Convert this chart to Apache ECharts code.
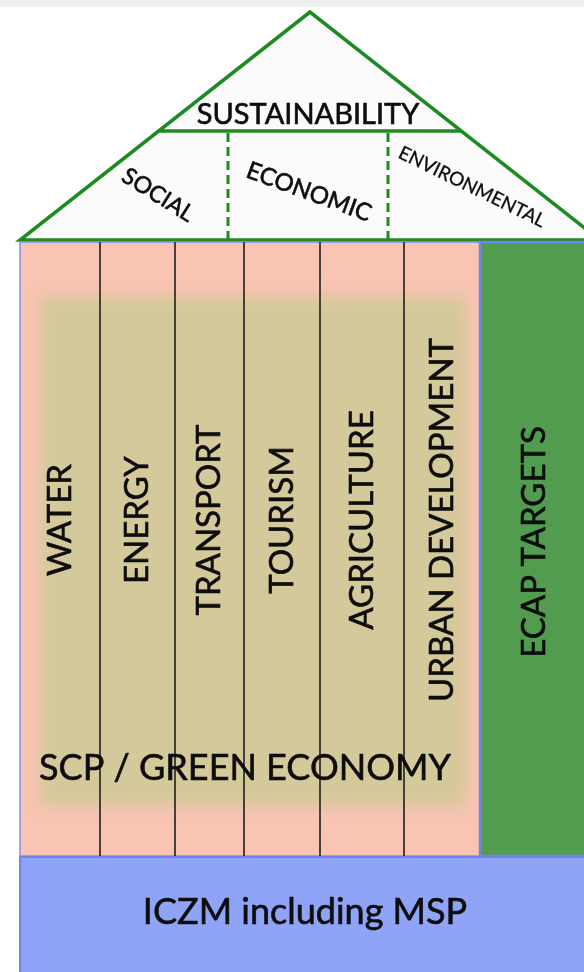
<!DOCTYPE html>
<html>
<head>
<meta charset="utf-8">
<script src="https://cdn.jsdelivr.net/npm/echarts@6/dist/echarts.min.js"></script>
<style>
  html, body { margin: 0; padding: 0; background: #fff; }
  #chart { width: 584px; height: 972px; }
</style>
</head>
<body>
<div id="chart"></div>
<script>
// diagram units: one unit = one pixel of the original picture
const sectors = ['WATER', 'ENERGY', 'TRANSPORT', 'TOURISM', 'AGRICULTURE', 'URBAN DEVELOPMENT']
const sectorEdges = [20, 100, 175, 244, 320, 404, 480]
const pillarSpan = [242, 856]
const coreBox = [40, 296, 466, 806]
const coreLabel = 'SCP / GREEN ECONOMY'
const ecapLabel = 'ECAP TARGETS'
const ecapSpan = [480, 584]
const baseLabel = 'ICZM including MSP'
const baseSpan = [857, 972]
const roofApex = [310, 12]
const roofEaves = [[20, 240], [600, 240]]
const roofBeamY = 131
const roofTitle = 'SUSTAINABILITY'
const dimensions = ['SOCIAL', 'ECONOMIC', 'ENVIRONMENTAL']
const dimensionDividers = [228, 388]

// label placement (layout only)
const sectorLabelY = 520
const coreLabelAt = [245, 768]
const ecapLabelY = 542
const roofTitleAt = [308, 115]
const dimensionAt = [[158, 195], [309, 192], [472, 187]]
const dimensionTilt = [-32, -20, -26]
const dimensionFont = [23, 24, 19]

const FONT = 'Lato, "Open Sans", sans-serif'
const GREEN_LINE = '#1f8a22'

const chart = echarts.init(document.getElementById('chart'))

function rectOf(api, x0, y0, x1, y1) {
  const a = api.coord([x0, y0])
  const b = api.coord([x1, y1])
  return {
    x: Math.min(a[0], b[0]),
    y: Math.min(a[1], b[1]),
    width: Math.abs(b[0] - a[0]),
    height: Math.abs(b[1] - a[1])
  }
}

function label(api, text, x, y, size, rotateDeg) {
  const p = api.coord([x, y])
  return {
    type: 'text',
    x: p[0],
    y: p[1],
    rotation: (rotateDeg || 0) * Math.PI / 180,
    style: {
      text: text,
      fill: '#0d0d0d',
      stroke: '#0d0d0d',
      lineWidth: size > 20 ? 0.6 : 0.3,
      fontSize: size,
      fontFamily: FONT,
      align: 'center',
      verticalAlign: 'middle'
    }
  }
}

const option = {
  animation: false,
  grid: { left: 0, right: 0, top: 0, bottom: 0 },
  xAxis: { type: 'value', min: 0, max: 584, show: false },
  yAxis: { type: 'value', min: 0, max: 972, inverse: true, show: false },
  series: [
    // faint strip at the very top
    {
      type: 'custom',
      data: [[0, 0, 584, 7]],
      renderItem: (params, api) => ({
        type: 'rect',
        shape: rectOf(api, api.value(0), api.value(1), api.value(2), api.value(3)),
        style: { fill: '#edf1ec' }
      })
    },
    // roof
    {
      type: 'custom',
      data: [[roofApex[0], roofApex[1]]],
      renderItem: (params, api) => {
        const apex = api.coord(roofApex)
        const left = api.coord(roofEaves[0])
        const right = api.coord(roofEaves[1])
        // where the beam meets the two slopes
        const t = (roofBeamY - roofApex[1]) / (roofEaves[0][1] - roofApex[1])
        const bl = api.coord([roofApex[0] + (roofEaves[0][0] - roofApex[0]) * t, roofBeamY])
        const br = api.coord([roofApex[0] + (roofEaves[1][0] - roofApex[0]) * t, roofBeamY])
        const children = [
          {
            type: 'polygon',
            shape: { points: [apex, left, right] },
            style: { fill: '#fbfbfb', stroke: GREEN_LINE, lineWidth: 3.5, lineJoin: 'miter' }
          },
          {
            type: 'line',
            shape: { x1: bl[0], y1: bl[1], x2: br[0], y2: br[1] },
            style: { stroke: GREEN_LINE, lineWidth: 3.5 }
          }
        ]
        dimensionDividers.forEach((x) => {
          const a = api.coord([x, roofBeamY + 2])
          const b = api.coord([x, roofEaves[0][1] - 1])
          children.push({
            type: 'line',
            shape: { x1: a[0], y1: a[1], x2: b[0], y2: b[1] },
            style: { stroke: GREEN_LINE, lineWidth: 3, lineDash: [9, 5] }
          })
        })
        children.push(label(api, roofTitle, roofTitleAt[0], roofTitleAt[1], 29, 0))
        dimensions.forEach((d, i) => {
          children.push(label(api, d, dimensionAt[i][0], dimensionAt[i][1], dimensionFont[i], dimensionTilt[i]))
        })
        return { type: 'group', children: children }
      }
    },
    // pink pillar ground
    {
      type: 'custom',
      data: [[sectorEdges[0], pillarSpan[0], sectorEdges[sectorEdges.length - 1], pillarSpan[1]]],
      renderItem: (params, api) => ({
        type: 'rect',
        shape: rectOf(api, api.value(0), api.value(1), api.value(2), api.value(3)),
        style: { fill: '#f9c4b3', stroke: '#7f8ff2', lineWidth: 1.5 }
      })
    },
    // blurred core: SCP / green economy (shape pushed off screen, only its shadow shows)
    {
      type: 'custom',
      data: [coreBox],
      renderItem: (params, api) => {
        const r = rectOf(api, api.value(0), api.value(1), api.value(2), api.value(3))
        r.y -= 3000
        return {
          type: 'rect',
          shape: r,
          style: { fill: '#d4c99a', shadowBlur: 15, shadowColor: '#d4c99a', shadowOffsetY: 3000 }
        }
      }
    },
    // sector columns
    {
      type: 'custom',
      data: sectors.map((s, i) => [sectorEdges[i], sectorEdges[i + 1], pillarSpan[0], pillarSpan[1]]),
      renderItem: (params, api) => {
        const x0 = api.value(0)
        const x1 = api.value(1)
        const children = []
        if (params.dataIndex < sectors.length - 1) {
          const a = api.coord([x1, api.value(2)])
          const b = api.coord([x1, api.value(3)])
          children.push({
            type: 'line',
            shape: { x1: a[0], y1: a[1], x2: b[0], y2: b[1] },
            style: { stroke: '#1e1e1e', lineWidth: 1.6 }
          })
        }
        children.push(label(api, sectors[params.dataIndex], (x0 + x1) / 2, sectorLabelY, 33, 90))
        return { type: 'group', children: children }
      }
    },
    // core label
    {
      type: 'custom',
      data: [coreLabelAt],
      renderItem: (params, api) => label(api, coreLabel, api.value(0), api.value(1), 36, 0)
    },
    // ECAP targets pillar
    {
      type: 'custom',
      data: [[ecapSpan[0], pillarSpan[0], ecapSpan[1], pillarSpan[1]]],
      renderItem: (params, api) => ({
        type: 'group',
        children: [
          {
            type: 'rect',
            shape: rectOf(api, api.value(0), api.value(1), api.value(2) + 4, api.value(3)),
            style: { fill: '#529c4f', stroke: '#6f85ee', lineWidth: 2.5 }
          },
          label(api, ecapLabel, (api.value(0) + api.value(2)) / 2 + 2, ecapLabelY, 33, 90)
        ]
      })
    },
    // ICZM base
    {
      type: 'custom',
      data: [[sectorEdges[0], baseSpan[0], 584, baseSpan[1]]],
      renderItem: (params, api) => ({
        type: 'group',
        children: [
          {
            type: 'rect',
            shape: rectOf(api, api.value(0), api.value(1), api.value(2) + 4, api.value(3) + 4),
            style: { fill: '#8fa4f7', stroke: '#6f85ee', lineWidth: 2 }
          },
          label(api, baseLabel, 305, (api.value(1) + api.value(3)) / 2 - 2, 36, 0)
        ]
      })
    }
  ]
}

chart.setOption(option)
</script>
</body>
</html>
